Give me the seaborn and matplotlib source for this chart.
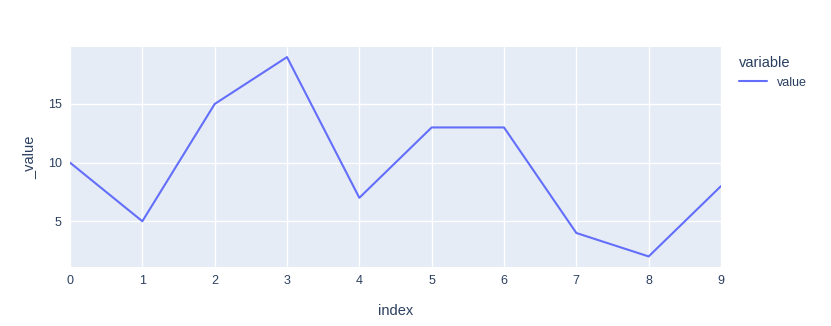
import matplotlib
matplotlib.use("Agg")
import matplotlib.pyplot as plt
import seaborn as sns
import pandas as pd

index = [0, 1, 2, 3, 4, 5, 6, 7, 8, 9]
values = [10, 5, 15, 19, 7, 13, 13, 4, 2, 8]
variable = ["value"] * len(index)

df = pd.DataFrame({"index": index, "_value": values, "variable": variable})

sns.set_theme(style="darkgrid")
plt.rcParams["font.family"] = ["Liberation Sans", "DejaVu Sans"]

fig = plt.figure(figsize=(8.31, 3.26), dpi=100)
ax = fig.add_axes([70 / 831, 1 - 267 / 326, 651 / 831, 220 / 326])
ax.set_facecolor("#e5ecf6")
fig.patch.set_facecolor("white")

sns.lineplot(data=df, x="index", y="_value", hue="variable",
             palette=["#636efa"], linewidth=1.5, ax=ax)

ax.set_xlim(0, 9)
ax.set_ylim(1.1, 19.86)
ax.set_xticks(index)
ax.set_yticks([5, 10, 15])
ax.grid(True, color="white", linewidth=1)
for s in ax.spines.values():
    s.set_visible(False)
ax.tick_params(axis="both", length=0, labelsize=9, labelcolor="#2a3f5f", pad=6)
ax.set_xlabel("index", fontsize=10.5, color="#2a3f5f", labelpad=12)
ax.set_ylabel("_value", fontsize=10.5, color="#2a3f5f", labelpad=8)

leg = ax.legend(title="variable", loc="upper left", bbox_to_anchor=(1.02, 0.98),
                frameon=False, fontsize=9, title_fontsize=10.5,
                handlelength=2.2, borderaxespad=0)
leg._legend_box.align = "left"
plt.setp(leg.get_title(), color="#2a3f5f")
for t in leg.get_texts():
    t.set_color("#2a3f5f")

fig.savefig("out.png", dpi=100)
